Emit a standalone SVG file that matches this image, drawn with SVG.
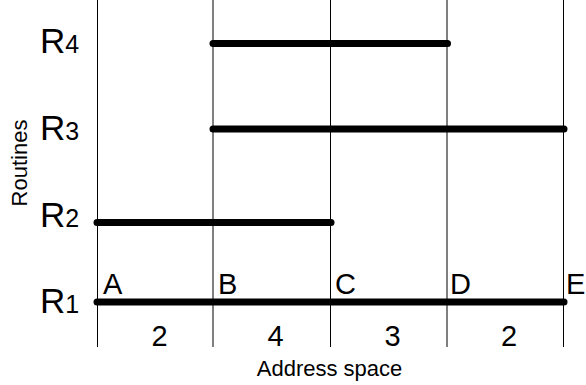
<svg xmlns="http://www.w3.org/2000/svg" width="586" height="385" viewBox="0 0 586 385">
<style>
text { font-family: "Liberation Sans", Arial, sans-serif; fill: #000; }
.grid { stroke: #000; stroke-width: 1; }
.bar { stroke: #000; stroke-width: 7; stroke-linecap: round; }
.rl { font-size: 35px; }
.sub { font-size: 25px; }
.pt { font-size: 29px; }
.num { font-size: 29px; text-anchor: middle; }
.ax { font-size: 22px; text-anchor: middle; }
</style>
<rect width="586" height="385" fill="#fff"/>
<g id="grid">
<line class="grid" x1="97.5" y1="0" x2="97.5" y2="347"/>
<line class="grid" x1="213" y1="0" x2="213" y2="347"/>
<line class="grid" x1="330.5" y1="0" x2="330.5" y2="347"/>
<line class="grid" x1="447" y1="0" x2="447" y2="347"/>
<line class="grid" x1="563.5" y1="0" x2="563.5" y2="347"/>
</g>
<g id="connectors">
<line id="bar-r4" class="bar" x1="213" y1="43.5" x2="447.5" y2="43.5"/>
<line id="bar-r3" class="bar" x1="213" y1="129" x2="564" y2="129"/>
<line id="bar-r2" class="bar" x1="97" y1="222.5" x2="331" y2="222.5"/>
<line id="bar-r1" class="bar" x1="97" y1="302" x2="564" y2="302"/>
</g>
<g id="R4"><text class="rl" x="40" y="53">R<tspan class="sub">4</tspan></text></g>
<g id="R3"><text class="rl" x="40" y="140">R<tspan class="sub">3</tspan></text></g>
<g id="R2"><text class="rl" x="40" y="227">R<tspan class="sub">2</tspan></text></g>
<g id="R1"><text class="rl" x="40" y="313">R<tspan class="sub">1</tspan></text></g>
<g id="points">
<text class="pt" x="103" y="293.5">A</text>
<text class="pt" x="218" y="293.5">B</text>
<text class="pt" x="335" y="293.5">C</text>
<text class="pt" x="450" y="293.5">D</text>
<text class="pt" x="566" y="293.5">E</text>
</g>
<g id="sizes">
<text class="num" x="159.5" y="346">2</text>
<text class="num" x="275.5" y="346">4</text>
<text class="num" x="392.5" y="346">3</text>
<text class="num" x="509" y="346">2</text>
</g>
<g id="axes">
<text class="ax" transform="translate(27,163) rotate(-90)">Routines</text>
<text class="ax" x="329.5" y="376">Address space</text>
</g>
</svg>
